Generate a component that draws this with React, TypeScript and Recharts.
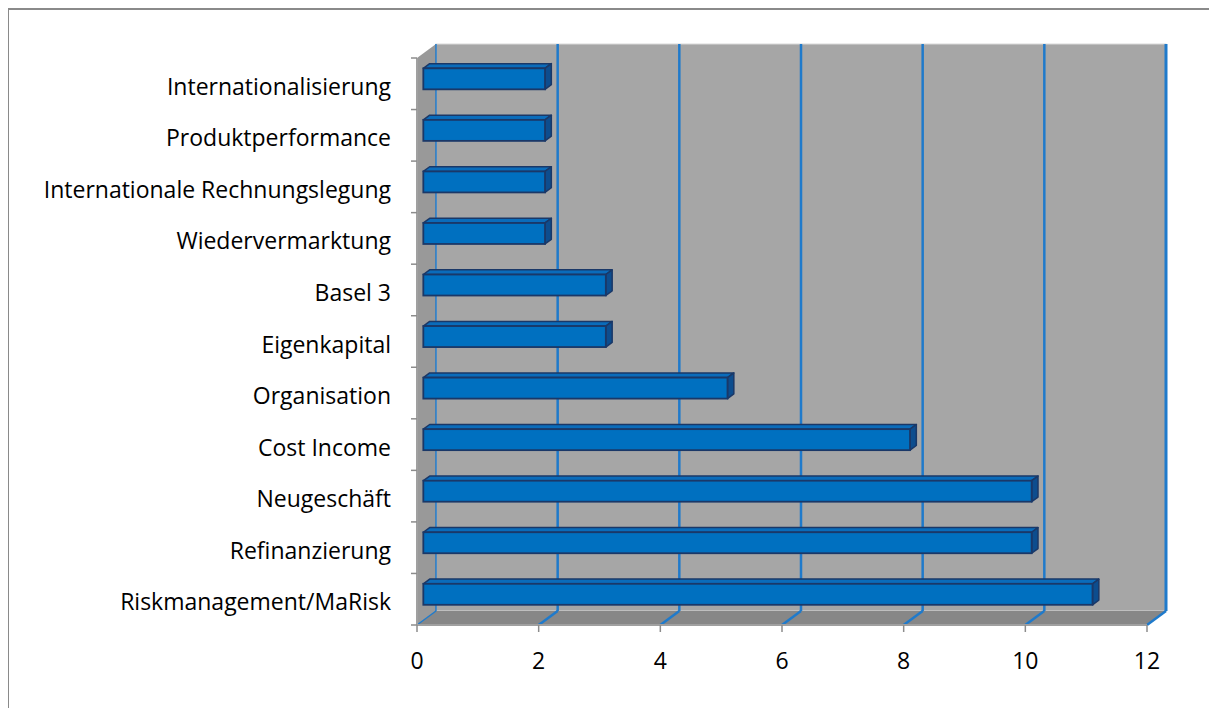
import React from "react";
import { BarChart, Bar, XAxis, YAxis, CartesianGrid } from "recharts";

const categories = [
  "Internationalisierung",
  "Produktperformance",
  "Internationale Rechnungslegung",
  "Wiedervermarktung",
  "Basel 3",
  "Eigenkapital",
  "Organisation",
  "Cost Income",
  "Neugeschäft",
  "Refinanzierung",
  "Riskmanagement/MaRisk",
];
const values = [2, 2, 2, 2, 3, 3, 5, 8, 10, 10, 11];
const xTicks = [0, 2, 4, 6, 8, 10, 12];

const data = categories.map((name, i) => ({ name, value: values[i] }));

const DX = 19;
const DY = 14;
const FONT = "'Open Sans', Lato, sans-serif";
const GRID_BLUE = "#1f7acb";

const Bar3D = (props: any) => {
  const { x, y, width, height } = props;
  if (width == null || width <= 0) return null;
  const ox = DX / 3;
  const oy = DY / 3;
  const fx = x + ox;
  const fy = y - oy;
  const w = width;
  const h = height;
  const stroke = "#1a3868";
  return (
    <g>
      <polygon
        points={`${fx},${fy} ${fx + w},${fy} ${fx + w + ox},${fy - oy} ${fx + ox},${fy - oy}`}
        fill="#0a6cbb"
        stroke={stroke}
        strokeWidth={1.5}
        strokeLinejoin="round"
      />
      <polygon
        points={`${fx + w},${fy} ${fx + w + ox},${fy - oy} ${fx + w + ox},${fy + h - oy} ${fx + w},${fy + h}`}
        fill="#0d4d8e"
        stroke={stroke}
        strokeWidth={1.5}
        strokeLinejoin="round"
      />
      <rect x={fx} y={fy} width={w} height={h} fill="#0070c0" stroke={stroke} strokeWidth={1.8} />
    </g>
  );
};

const Walls = (props: any) => {
  if (props.index !== 0) return <g key={props.key} />;
  const { x, y, width: w, height: h } = props;
  return (
    <g key={props.key}>
      <rect x={x + DX} y={y - DY} width={w} height={h} fill="#a6a6a6" stroke="#d9d9d9" strokeWidth={1} />
      <polygon
        points={`${x},${y} ${x + DX},${y - DY} ${x + DX},${y + h - DY} ${x},${y + h}`}
        fill="#999999"
      />
      <polygon
        points={`${x},${y + h} ${x + DX},${y + h - DY} ${x + w + DX},${y + h - DY} ${x + w},${y + h}`}
        fill="#878787"
      />
    </g>
  );
};

const GridLine = (props: any) => {
  const { x1, y1, y2, key, index } = props;
  const last = index === xTicks.length - 1;
  const first = index === 0;
  return (
    <g key={key}>
      <line
        x1={x1 + DX}
        y1={y1 - DY}
        x2={x1 + DX}
        y2={y2 - DY}
        stroke={GRID_BLUE}
        strokeWidth={first ? 1.5 : last ? 3 : 2.5}
      />
      <line x1={x1} y1={y2} x2={x1 + DX} y2={y2 - DY} stroke={GRID_BLUE} strokeWidth={first ? 1.5 : 2.5} />
    </g>
  );
};

const CategoryTick = (props: any) => {
  const { x, y, payload, height } = props;
  const band = (height || 567) / categories.length;
  const isLast = payload.index === categories.length - 1;
  const lx1 = x + 20;
  const lx2 = x + 26;
  return (
    <g>
      <line x1={lx1} y1={y - band / 2} x2={lx2} y2={y - band / 2} stroke="#8c8c8c" strokeWidth={1.5} />
      {isLast && (
        <line x1={lx1} y1={y + band / 2} x2={lx2} y2={y + band / 2} stroke="#8c8c8c" strokeWidth={1.5} />
      )}
      <text
        x={x}
        y={y + 2}
        textAnchor="end"
        dominantBaseline="central"
        fontFamily={FONT}
        fontSize={23}
        fill="#000"
      >
        {payload.value}
      </text>
    </g>
  );
};

export default function App() {
  return (
    <div
      style={{
        width: 1209,
        height: 700,
        marginLeft: -1,
        borderLeft: "2px solid #8a8a8a",
        borderTop: "2px solid #8a8a8a",
        boxSizing: "border-box",
        background: "#fff",
      }}
    >
      <BarChart
        width={1207}
        height={698}
        data={data}
        layout="vertical"
        margin={{ top: 48, right: 69, bottom: 21, left: 108 }}
        barCategoryGap={0}
      >
        <CartesianGrid horizontal={Walls} vertical={GridLine} stroke="none" />
        <XAxis
          type="number"
          domain={[0, 12]}
          ticks={xTicks}
          interval={0}
          tickSize={7}
          tickMargin={21}
          height={62}
          axisLine={{ stroke: "#a0a0a0", strokeWidth: 2 }}
          tickLine={{ stroke: "#8c8c8c", strokeWidth: 1.5 }}
          tick={{ fontFamily: FONT, fontSize: 23, fill: "#000" }}
        />
        <YAxis
          type="category"
          dataKey="name"
          width={300}
          tickSize={6}
          tickMargin={20}
          tickLine={false}
          axisLine={{ stroke: "#a0a0a0", strokeWidth: 2 }}
          tick={<CategoryTick />}
          interval={0}
        />
        <Bar dataKey="value" barSize={21} shape={<Bar3D />} isAnimationActive={false} />
      </BarChart>
    </div>
  );
}
